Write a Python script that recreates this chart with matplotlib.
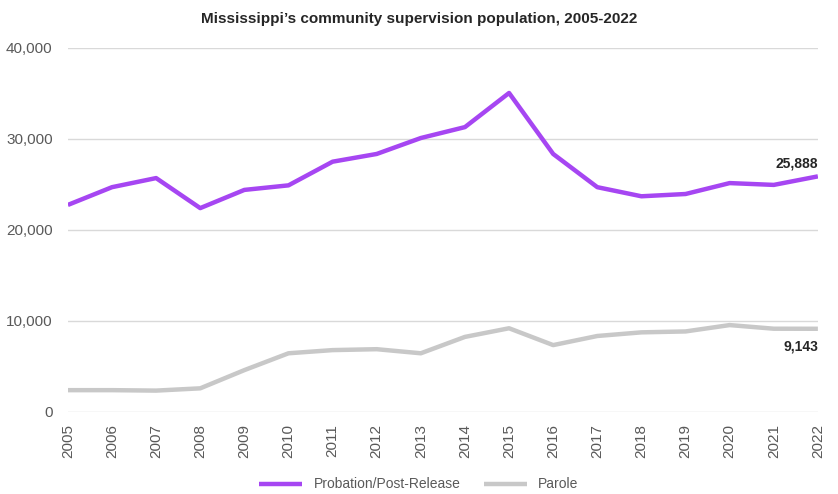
import matplotlib.pyplot as plt
from matplotlib.ticker import FuncFormatter

years = list(range(2005, 2023))
probation = [22750, 24700, 25700, 22400, 24400, 24900, 27500, 28350, 30100, 31300,
             35050, 28350, 24700, 23700, 23950, 25150, 24950, 25888]
parole = [2400, 2400, 2350, 2600, 4600, 6450, 6800, 6900, 6450, 8250,
          9200, 7350, 8350, 8750, 8850, 9550, 9150, 9143]

purple = "#A646F2"
gray = "#C8C8C8"
text_gray = "#595959"

plt.rcParams['font.family'] = ['Liberation Sans', 'DejaVu Sans']

fig = plt.figure(figsize=(8.38, 4.94), dpi=100)
ax = fig.add_axes([0.081, 0.166, 0.895, 0.737])

ax.plot(years, probation, color=purple, lw=3.2, label="Probation/Post-Release", solid_capstyle='butt')
ax.plot(years, parole, color=gray, lw=3.2, label="Parole", solid_capstyle='butt')

ax.set_xlim(years[0], years[-1])
ax.set_ylim(0, 40000)
ax.set_yticks([0, 10000, 20000, 30000, 40000])
ax.yaxis.set_major_formatter(FuncFormatter(lambda v, p: f"{int(v):,}"))
ax.set_xticks(years)
ax.set_xticklabels([str(y) for y in years], rotation=90)
ax.grid(axis='y', color="#D9D9D9", lw=1)
ax.set_axisbelow(True)
for s in ax.spines.values():
    s.set_visible(False)
ax.tick_params(axis='both', length=0, labelsize=11, colors=text_gray)
ax.tick_params(axis='y', pad=11)
ax.tick_params(axis='x', pad=9)

ax.annotate(f"{probation[-1]:,}", (years[-1], probation[-1]), xytext=(0, 4),
            textcoords='offset points', ha='right', va='bottom',
            fontsize=10, fontweight='bold', color="#262626")
ax.annotate(f"{parole[-1]:,}", (years[-1], parole[-1]), xytext=(0, -8),
            textcoords='offset points', ha='right', va='top',
            fontsize=10, fontweight='bold', color="#262626")

fig.suptitle("Mississippi\u2019s community supervision population, 2005-2022",
             x=0.5, y=0.975, fontsize=11, fontweight='bold', color="#262626")

leg = fig.legend(loc='lower center', bbox_to_anchor=(0.5, -0.02), ncol=2, frameon=False,
                 fontsize=10, handlelength=3.1, columnspacing=1.7, labelcolor=text_gray)

fig.savefig("out.png", dpi=100)
